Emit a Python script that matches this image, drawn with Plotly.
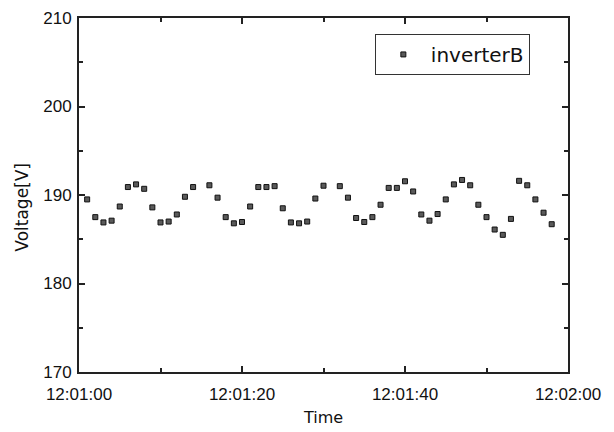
import plotly.graph_objects as go

# Sample times (seconds after 12:01:00) and measured voltages of inverter B
seconds = [1, 2, 3, 4, 5, 6, 7, 8, 9, 10, 11, 12, 13, 14,
           16, 17, 18, 19, 20, 21, 22, 23, 24, 25, 26, 27, 28, 29, 30,
           32, 33, 34, 35, 36, 37, 38, 39, 40, 41, 42, 43, 44, 45, 46, 47,
           48, 49, 50, 51, 52, 53, 54, 55, 56, 57, 58]
voltage = [189.5, 187.5, 186.9, 187.1, 188.7, 190.9, 191.2, 190.7, 188.6, 186.9,
           187.0, 187.8, 189.8, 190.9,
           191.1, 189.7, 187.5, 186.8, 186.95, 188.7, 190.9, 190.9, 191.0, 188.5,
           186.9, 186.8, 187.0, 189.6, 191.05,
           191.0, 189.7, 187.4, 186.95, 187.5, 188.9, 190.8, 190.8, 191.55, 190.4,
           187.8, 187.1, 187.85, 189.5, 191.2, 191.7, 191.1, 188.9, 187.5, 186.1,
           185.5, 187.3, 191.6, 191.1, 189.5, 188.0, 186.7]
times = ["2024-01-01 12:01:%02d" % s for s in seconds]

x_range = ["2024-01-01 12:01:00", "2024-01-01 12:02:00"]
y_range = [170, 210]

tick_font = dict(family="Liberation Sans, Arial, sans-serif", size=17, color="#111111")
label_font = "DejaVu Sans, sans-serif"

fig = go.Figure()
fig.add_trace(go.Scatter(
    x=times, y=voltage, mode="markers", name="inverterB",
    marker=dict(symbol="square", size=5, color="#5a5a5a",
                line=dict(color="#111111", width=1)),
))

axis_common = dict(
    showline=True, linecolor="#222222", linewidth=2, mirror="ticks",
    ticks="inside", ticklen=6, tickcolor="#222222", tickwidth=1.5,
    showgrid=False, zeroline=False, tickfont=tick_font, automargin=False,
)

fig.update_xaxes(
    type="date", range=x_range, tickformat="%H:%M:%S",
    tick0="2024-01-01 12:01:00", dtick=20000, ticklabelstandoff=6,
    minor=dict(ticks="inside", ticklen=4, dtick=10000, tickcolor="#222222",
               showgrid=False),
    title=dict(text="Time", font=dict(family=label_font, size=16, color="#111111"),
               standoff=8),
    **axis_common,
)
fig.update_yaxes(
    range=y_range, tick0=170, dtick=10, ticklabelstandoff=2,
    minor=dict(ticks="inside", ticklen=4, dtick=5, tickcolor="#222222",
               showgrid=False),
    **axis_common,
)

# Vertical axis title, placed slightly below the axis centre
fig.add_annotation(
    text="Voltage[V]", textangle=-90, xref="paper", yref="paper",
    x=-0.116, y=0.465, xanchor="center", yanchor="middle", showarrow=False,
    font=dict(family=label_font, size=17, color="#111111"),
)

fig.update_layout(
    width=614, height=432,
    margin=dict(l=79, r=46, t=18, b=60, autoexpand=False),
    plot_bgcolor="white", paper_bgcolor="white",
    showlegend=True,
    legend=dict(
        x=0.605, y=0.955, xanchor="left", yanchor="top",
        bgcolor="white", bordercolor="#333333", borderwidth=1,
        font=dict(family=label_font, size=20, color="#111111"),
        itemsizing="trace", itemwidth=45,
    ),
)

fig.write_html("out.html")
